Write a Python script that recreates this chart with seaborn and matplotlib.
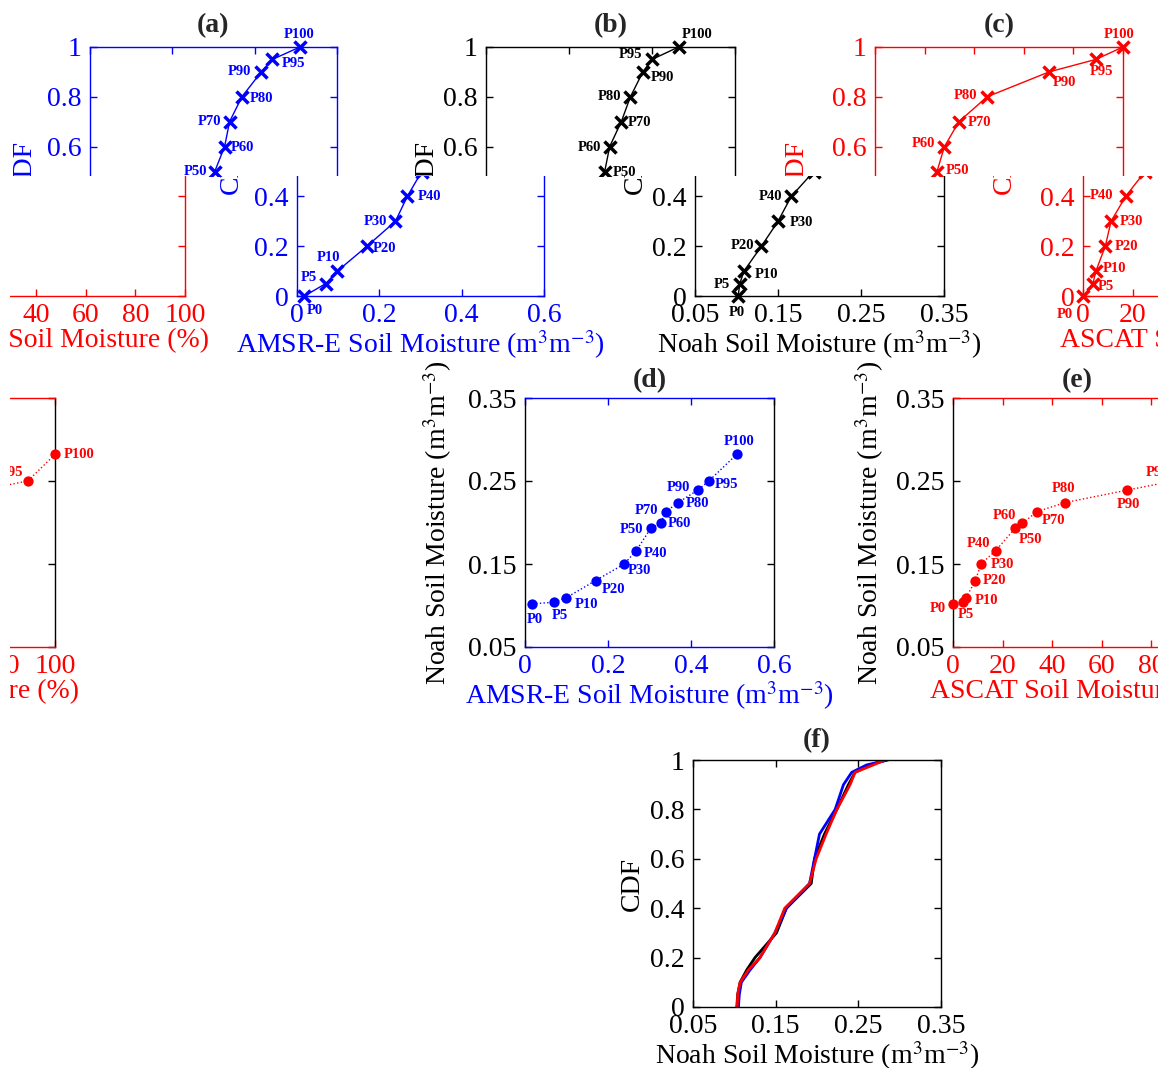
import matplotlib
matplotlib.use("Agg")
import matplotlib.pyplot as plt
import seaborn as sns
from matplotlib.transforms import Bbox, TransformedBbox

# percentile points (P0 ... P100) (a)-(e)
pct_names = ['P0', 'P5', 'P10', 'P20', 'P30', 'P40', 'P50',
             'P60', 'P70', 'P80', 'P90', 'P95', 'P100']
cdf_levels = [0, 0.05, 0.1, 0.2, 0.3, 0.4, 0.5, 0.6, 0.7, 0.8, 0.9, 0.95, 1.0]
amsre_pct = [0.018, 0.070, 0.098, 0.170, 0.239, 0.268, 0.303,
             0.327, 0.339, 0.369, 0.416, 0.443, 0.510]
noah_pct = [0.102, 0.104, 0.109, 0.130, 0.150, 0.166, 0.193,
            0.199, 0.213, 0.224, 0.239, 0.250, 0.282]
ascat_pct = [0.2, 4.0, 5.2, 9.0, 11.3, 17.2, 25.0,
             28.0, 33.8, 45.2, 70.2, 89.0, 100.0]

# panel (f): Noah CDF and the two rescaled products
f_levels = [0, 0.05, 0.1, 0.15, 0.2, 0.3, 0.4, 0.5, 0.6, 0.7, 0.8, 0.9, 0.95, 0.98, 1.0]
f_noah = [0.103, 0.104, 0.107, 0.115, 0.125, 0.151, 0.163, 0.193, 0.197,
          0.209, 0.224, 0.238, 0.246, 0.264, 0.284]
f_amsre = [0.105, 0.106, 0.1085, 0.119, 0.131, 0.149, 0.163, 0.191, 0.197,
           0.203, 0.222, 0.232, 0.242, 0.260, 0.286]
f_ascat = [0.1035, 0.104, 0.107, 0.117, 0.131, 0.149, 0.161, 0.191, 0.199,
           0.211, 0.224, 0.240, 0.246, 0.268, 0.282]

cdf_ticks = [0, 0.2, 0.4, 0.6, 0.8, 1]
cdf_ticklabels = ['0', '0.2', '0.4', '0.6', '0.8', '1']
amsre_ticks = [0, 0.2, 0.4, 0.6]
amsre_ticklabels = ['0', '0.2', '0.4', '0.6']
noah_ticks = [0.05, 0.15, 0.25, 0.35]
noah_ticklabels = ['0.05', '0.15', '0.25', '0.35']
ascat_ticks = [0, 20, 40, 60, 80, 100]
ascat_ticklabels = ['0', '20', '40', '60', '80', '100']

unit = ' (m$^3$m$^{-3}$)'
amsre_label = 'AMSR-E Soil Moisture' + unit
noah_label = 'Noah Soil Moisture' + unit
ascat_label = 'ASCAT Soil Moisture (%)'

BLUE, RED, BLACK = '#0000ff', '#ff0000', '#000000'
FS = 20

# label offsets (pixels) for the P-labels of each panel
off_a = [(10, -15), (-17, 6), (-9, 14), (18, -2), (-20, 0), (22, 0), (-19, 0),
         (18, -1), (-20, 0), (20, -2), (-22, 0), (21, -4), (-1, 13)]
off_b = [(-1, -16), (-18, -1), (23, -3), (-19, 1), (23, -1), (-21, 0), (20, -1),
         (-20, -1), (18, -1), (-21, 0), (20, -6), (-22, 5), (19, 13)]
off_c = [(-19, -18), (13, -3), (19, 3), (21, 0), (20, 0), (-24, 1), (20, 1),
         (-21, 3), (21, -1), (-22, 1), (15, -11), (6, -12), (-4, 13)]
off_d = [(2, -16), (6, -13), (21, -6), (18, -9), (15, -7), (19, -3), (-19, -1),
         (19, 0), (-19, 1), (19, -1), (-19, 3), (18, -4), (2, 13)]
off_e = [(-16, -5), (3, -12), (21, -2), (19, 0), (21, 0), (-17, 7), (15, -11),
         (-18, 8), (17, -9), (-2, 14), (1, -14), (-16, 9), (24, 0)]

sns.set_theme(style='ticks', rc={'mathtext.fontset': 'stix'})
plt.rcParams['font.family'] = ['Liberation Serif', 'DejaVu Serif']

W, H = 1158, 1068
fig = plt.figure(figsize=(W / 100, H / 100), dpi=100, facecolor='white')


def add_ax(x0, x1, y0, y1):
    ax = fig.add_axes([x0 / W, 1 - y1 / H, (x1 - x0) / W, (y1 - y0) / H])
    ax.set_facecolor('none')
    return ax


def band(y0, y1, x0=0):
    return TransformedBbox(Bbox([[x0 / W, 1 - y1 / H], [1, 1 - y0 / H]]),
                           fig.transFigure)


def clip_to(ax, box):
    for art in ax.findobj():
        if art is ax:
            continue
        art.set_clip_path(None)
        art.set_clip_box(box)
        art.set_clip_on(True)


def frame(ax, xcol, ycol, xlim, xticks, xtl, ylim, yticks, ytl):
    ax.set_xlim(xlim)
    ax.set_ylim(ylim)
    ax.set_xticks(xticks)
    ax.set_xticklabels(xtl)
    ax.set_yticks(yticks)
    ax.set_yticklabels(ytl)
    ax.spines[['top', 'bottom']].set_color(xcol)
    ax.spines[['left', 'right']].set_color(ycol)
    for s in ax.spines.values():
        s.set_linewidth(1)
    ax.tick_params(axis='x', colors=xcol, direction='in', top=True,
                   length=5, width=1, labelsize=FS, pad=5)
    ax.tick_params(axis='y', colors=ycol, direction='in', right=True,
                   length=5, width=1, labelsize=FS, pad=6)


def cdf_panel(ax, vals, color, title, xlabel, xlim, xticks, xtl, offsets, ypad):
    frame(ax, color, color, xlim, xticks, xtl, (0, 1), cdf_ticks, cdf_ticklabels)
    sns.lineplot(x=vals, y=cdf_levels, ax=ax, color=color, lw=1,
                 sort=False, estimator=None)
    ax.plot(vals, cdf_levels, ls='none', marker='x', ms=9, mew=2.5, color=color)
    for name, xv, yv, off in zip(pct_names, vals, cdf_levels, offsets):
        ax.annotate(name, (xv, yv), xytext=off, textcoords='offset pixels',
                    ha='center', va='center', fontsize=10.5, fontweight='bold',
                    color=color, annotation_clip=False)
    ax.set_title(title, fontsize=FS, fontweight='bold', pad=11)
    ax.set_xlabel(xlabel, color=color, fontsize=FS, labelpad=0)
    ax.set_ylabel('CDF', color=color, fontsize=FS, labelpad=ypad, y=0.52)


def scatter_panel(ax, xvals, color, title, xlabel, xlim, xticks, xtl, offsets, ypad):
    frame(ax, color, BLACK, xlim, xticks, xtl, (0.05, 0.35), noah_ticks, noah_ticklabels)
    sns.lineplot(x=xvals, y=noah_pct, ax=ax, color=color, lw=1, ls=':',
                 sort=False, estimator=None)
    sns.scatterplot(x=xvals, y=noah_pct, ax=ax, color=color, s=55,
                    linewidth=0, zorder=3, clip_on=False)
    for name, xv, yv, off in zip(pct_names, xvals, noah_pct, offsets):
        ax.annotate(name, (xv, yv), xytext=off, textcoords='offset pixels',
                    ha='center', va='center', fontsize=10.5, fontweight='bold',
                    color=color, annotation_clip=False)
    ax.set_title(title, fontsize=FS, fontweight='bold', pad=8)
    ax.set_xlabel(xlabel, color=color, fontsize=FS, labelpad=0)
    ax.set_ylabel(noah_label, color=BLACK, fontsize=FS, labelpad=ypad)


top = band(0, 176)
low = band(176, 365)
low_wrap = band(176, 365, 10)
row2_wrap = band(360, 712, 10)
clipped = []

# row 1: each CDF panel is split at the seam, the lower half shifted right
for x0, box in [(90, top), (297, low)]:
    ax = add_ax(x0, x0 + 247, 47, 296)
    cdf_panel(ax, amsre_pct, BLUE, '(a)', amsre_label, (0, 0.6),
              amsre_ticks, amsre_ticklabels, off_a, 7)
    clipped.append((ax, box))

for x0, box in [(486, top), (695, low)]:
    ax = add_ax(x0, x0 + 249, 47, 296)
    cdf_panel(ax, noah_pct, BLACK, '(b)', noah_label, (0.05, 0.35),
              noah_ticks, noah_ticklabels, off_b, 3)
    clipped.append((ax, box))

for x0, box in [(875, top), (1083, low), (-63, low_wrap)]:
    ax = add_ax(x0, x0 + 248, 47, 296)
    cdf_panel(ax, ascat_pct, RED, '(c)', ascat_label, (0, 100),
              ascat_ticks, ascat_ticklabels, off_c, 17)
    clipped.append((ax, box))

# row 2: scatter of percentiles against Noah
ax_d = add_ax(525, 774, 398, 647)
scatter_panel(ax_d, amsre_pct, BLUE, '(d)', amsre_label, (0, 0.6),
              amsre_ticks, amsre_ticklabels, off_d, 10)

ax_e = add_ax(953, 1201, 398, 647)
scatter_panel(ax_e, ascat_pct, RED, '(e)', ascat_label, (0, 100),
              ascat_ticks, ascat_ticklabels, off_e, 7)
ax_e2 = add_ax(-193, 55, 398, 647)
scatter_panel(ax_e2, ascat_pct, RED, '(e)', ascat_label, (0, 100),
              ascat_ticks, ascat_ticklabels, off_e, 7)
clipped.append((ax_e2, row2_wrap))

# row 3: CDFs after matching
ax_f = add_ax(693, 941, 760, 1007)
frame(ax_f, BLACK, BLACK, (0.05, 0.35), noah_ticks, noah_ticklabels,
      (0, 1), cdf_ticks, cdf_ticklabels)
for vals, color in [(f_noah, BLACK), (f_amsre, BLUE), (f_ascat, RED)]:
    sns.lineplot(x=vals, y=f_levels, ax=ax_f, color=color, lw=2,
                 sort=False, estimator=None)
ax_f.set_title('(f)', fontsize=FS, fontweight='bold', pad=9)
ax_f.set_xlabel(noah_label, color=BLACK, fontsize=FS, labelpad=0)
ax_f.set_ylabel('CDF', color=BLACK, fontsize=FS, labelpad=4)

fig.canvas.draw()
for ax, box in clipped:
    clip_to(ax, box)

fig.savefig('out.png', dpi=100, facecolor='white')
